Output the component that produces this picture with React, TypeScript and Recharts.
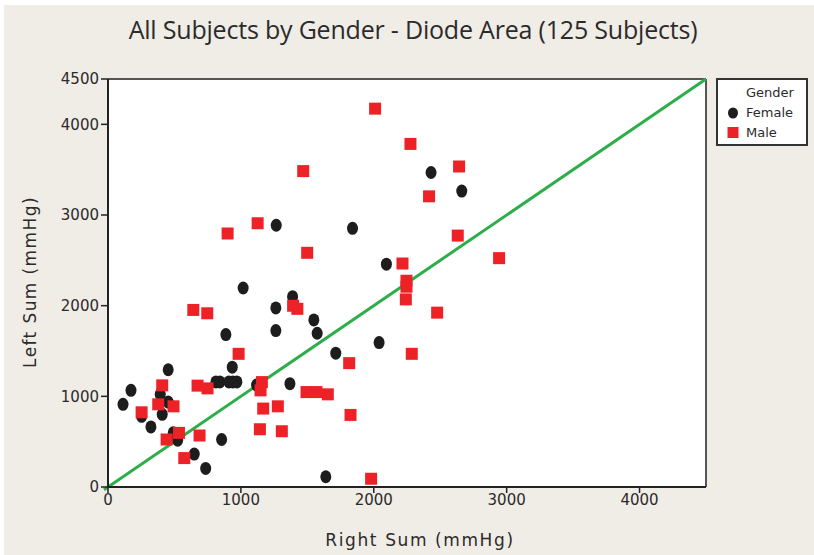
import { ScatterChart, Scatter, XAxis, YAxis, ReferenceLine, CartesianGrid } from "recharts";

/* ── All Subjects by Gender: Left vs Right sum scatter ── */

const TITLE = "All Subjects by Gender - Diode Area (125 Subjects)";
const X_TICKS = [0, 1000, 2000, 3000, 4000];
const Y_TICKS = [0, 1000, 2000, 3000, 4000, 4500];

// [right sum, left sum] in mmHg
const female: [number, number][] = [
  [1017, 2195], [1389, 2099], [1263, 1975], [887, 1681], [1263, 1725],
  [173, 1066], [453, 1293], [113, 912], [393, 1022], [453, 937],
  [408, 802], [253, 780], [323, 663], [491, 597], [524, 516],
  [649, 363], [735, 205], [855, 524], [935, 1322], [812, 1159],
  [842, 1159], [910, 1159], [940, 1159], [970, 1159], [1118, 1124],
  [1369, 1140], [1549, 1843], [1574, 1696], [1714, 1476], [2040, 1593],
  [1639, 113], [2431, 3469], [2662, 3264], [1266, 2887], [1840, 2853],
  [2095, 2458],
];

const male: [number, number][] = [
  [642, 1953], [747, 1916], [983, 1469], [408, 1121], [674, 1118],
  [749, 1088], [378, 912], [493, 890], [253, 824], [534, 597],
  [441, 524], [689, 568], [574, 319], [1158, 1157], [1148, 1066],
  [1168, 865], [1278, 890], [1143, 637], [1308, 615], [1393, 1999],
  [1425, 1965], [1494, 1047], [1569, 1047], [1654, 1022], [1825, 795],
  [1815, 1366], [1980, 91], [2246, 2209], [2246, 2275], [2241, 2069],
  [2216, 2465], [2477, 1923], [2286, 1469], [2010, 4173], [2276, 3784],
  [1469, 3484], [2416, 3206], [1126, 2909], [900, 2796], [1499, 2583],
  [2642, 3535], [2632, 2773], [2943, 2524],
];

const toPts = (arr: [number, number][]) => arr.map(([x, y]) => ({ x, y }));

const BG = "#f0ece6";
const FONT = "'DejaVu Sans', Verdana, sans-serif";
const TEXT = "#2b2b2b";

function FemaleDot(p: any) {
  return <ellipse cx={p.cx} cy={p.cy} rx={5.5} ry={6.5} fill="#1d1d1d" />;
}

function MaleSquare(p: any) {
  return <rect x={p.cx - 6} y={p.cy - 6} width={12} height={12} fill="#ed2227" />;
}

export default function App() {
  const tick = { fontSize: 15, fill: TEXT, fontFamily: FONT };

  return (
    <div style={{ position: "absolute", left: 0, top: 0, width: 814, height: 555, background: "#fff", overflow: "hidden" }}>
      <div style={{ position: "absolute", left: 4, top: 5, width: 810, height: 550, background: BG }} />
      <div
        style={{
          position: "absolute", top: 12, left: 0, width: 826, textAlign: "center",
          fontFamily: "'Open Sans', sans-serif", fontSize: 25, color: TEXT, letterSpacing: -0.2,
        }}
      >
        {TITLE}
      </div>

      <div style={{ position: "absolute", left: 0, top: 0 }}>
        <ScatterChart width={814} height={555} margin={{ top: 79, right: 108, bottom: 38, left: 48 }}>
          <CartesianGrid fill="#ffffff" horizontal={false} vertical={false} />
          <XAxis
            type="number"
            dataKey="x"
            domain={[0, 4500]}
            ticks={X_TICKS}
            allowDataOverflow
            height={30}
            tick={tick}
            tickSize={6}
            tickMargin={1}
            axisLine={{ stroke: "#222", strokeWidth: 2 }}
            tickLine={{ stroke: "#222", strokeWidth: 1.5 }}
          />
          <YAxis
            type="number"
            dataKey="y"
            domain={[0, 4500]}
            ticks={Y_TICKS}
            allowDataOverflow
            width={60}
            tick={tick}
            tickSize={7}
            tickMargin={2}
            axisLine={{ stroke: "#222", strokeWidth: 2 }}
            tickLine={{ stroke: "#222", strokeWidth: 1.5 }}
          />
          <ReferenceLine y={4500} stroke="#555" strokeWidth={2} />
          <ReferenceLine x={4500} stroke="#555" strokeWidth={2} />
          <ReferenceLine
            segment={[{ x: -30, y: -30 }, { x: 4500, y: 4500 }]}
            stroke="#2eae4a"
            strokeWidth={3}
            ifOverflow="visible"
          />
          <Scatter name="Female" data={toPts(female)} shape={FemaleDot} isAnimationActive={false} />
          <Scatter name="Male" data={toPts(male)} shape={MaleSquare} isAnimationActive={false} />
        </ScatterChart>
      </div>

      {/* axis titles */}
      <div
        style={{
          position: "absolute", top: 530, left: 220, width: 400, textAlign: "center",
          fontFamily: FONT, fontSize: 17, letterSpacing: 1.6, color: TEXT,
        }}
      >
        Right Sum (mmHg)
      </div>
      <div
        style={{
          position: "absolute", top: 272, left: -170, width: 400, textAlign: "center",
          fontFamily: FONT, fontSize: 17, letterSpacing: 1.4, color: TEXT,
          transform: "rotate(-90deg)",
        }}
      >
        Left Sum (mmHg)
      </div>

      {/* legend */}
      <div
        style={{
          position: "absolute", left: 716, top: 78, width: 88, height: 64,
          background: "#fff", border: "2px solid #333", fontFamily: FONT, fontSize: 13, color: TEXT,
        }}
      >
        <div style={{ position: "absolute", left: 28, top: 5 }}>Gender</div>
        <svg style={{ position: "absolute", left: 8, top: 26 }} width={14} height={34}>
          <ellipse cx={7} cy={7} rx={5} ry={5.5} fill="#1d1d1d" />
          <rect x={1.5} y={21} width={11} height={11} fill="#ed2227" />
        </svg>
        <div style={{ position: "absolute", left: 28, top: 25 }}>Female</div>
        <div style={{ position: "absolute", left: 28, top: 45 }}>Male</div>
      </div>
    </div>
  );
}
